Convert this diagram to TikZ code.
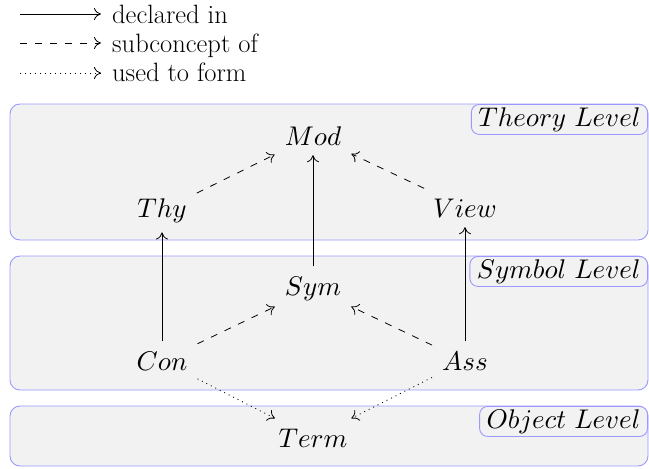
\documentclass[tikz,border=0pt]{standalone}
\DeclareFontShape{OML}{cmm}{m}{it}{<->cmmi10}{}
\DeclareFontShape{OT1}{cmr}{m}{n}{<->cmr10}{}
\DeclareFontShape{OMS}{cmsy}{m}{n}{<->cmsy10}{}
\DeclareFontShape{OMX}{cmex}{m}{n}{<->cmex10}{}
\usetikzlibrary{arrows.meta}
\begin{document}
\begin{tikzpicture}[x=1pt,y=-1pt,
  lvl/.style={fill=black!5, draw=blue!40, rounded corners=10pt, line width=0.9pt},
  lbl/.style={draw=blue!40, rounded corners=8pt, fill=black!5, inner xsep=7pt, inner ysep=3pt, anchor=north east, font=\fontsize{27}{32}\selectfont, line width=0.9pt},
  cpt/.style={inner sep=10pt, font=\fontsize{27}{32}\selectfont},
  tip/.style={-{To[length=7pt,width=12pt]}, line width=0.8pt},
  decl/.style={tip},
  subc/.style={tip, dash pattern=on 7pt off 8pt},
  usedf/.style={tip, dash pattern=on 1pt off 4pt},
  leg/.style={anchor=base west, inner sep=0pt, font=\rmfamily\fontsize{26.5}{32}\selectfont}
]
\useasboundingbox (0,0) rectangle (649,469);
% legend
\coordinate (l1a) at (20,14); \coordinate (l1b) at (101,14);
\coordinate (l2a) at (20,43); \coordinate (l2b) at (101,43);
\coordinate (l3a) at (20,73); \coordinate (l3b) at (101,73);
\draw[decl] (l1a) -- (l1b);
\draw[subc] (l2a) -- (l2b);
\draw[usedf] (l3a) -- (l3b);
\node[leg] (t1) at (112,23) {declared in};
\node[leg] (t2) at (112,52) {subconcept of};
\node[leg] (t3) at (112,81) {used to form};
% levels
\path[lvl] (10,104) rectangle (648,240);
\path[lvl] (10,256) rectangle (648,390);
\path[lvl] (10,406) rectangle (648,466);
\node[lbl] (ltheory) at (648,104) {$Theory\ Level$};
\node[lbl] (lsymbol) at (648,256) {$Symbol\ Level$};
\node[lbl] (lobject) at (648,406) {$Object\ Level$};
% concepts
\node[cpt, anchor=base] (mod) at (313,145) {$Mod$};
\node[cpt, anchor=base] (thy) at (162,217) {$Thy$};
\node[cpt, anchor=base] (view) at (465,217) {$View$};
\node[cpt, anchor=base] (sym) at (313,295) {$Sym$};
\node[cpt, anchor=base] (con) at (162,370) {$Con$};
\node[cpt, anchor=base] (ass) at (465,370) {$Ass$};
\node[cpt, anchor=base] (term) at (313,447) {$Term$};
% connectors
\draw[subc] (thy) -- (mod);
\draw[subc] (view) -- (mod);
\draw[decl] (sym) -- (mod);
\draw[decl] (con) -- (thy);
\draw[decl] (ass) -- (view);
\draw[subc] (con) -- (sym);
\draw[subc] (ass) -- (sym);
\draw[usedf] (con) -- (term);
\draw[usedf] (ass) -- (term);
\end{tikzpicture}
\end{document}
